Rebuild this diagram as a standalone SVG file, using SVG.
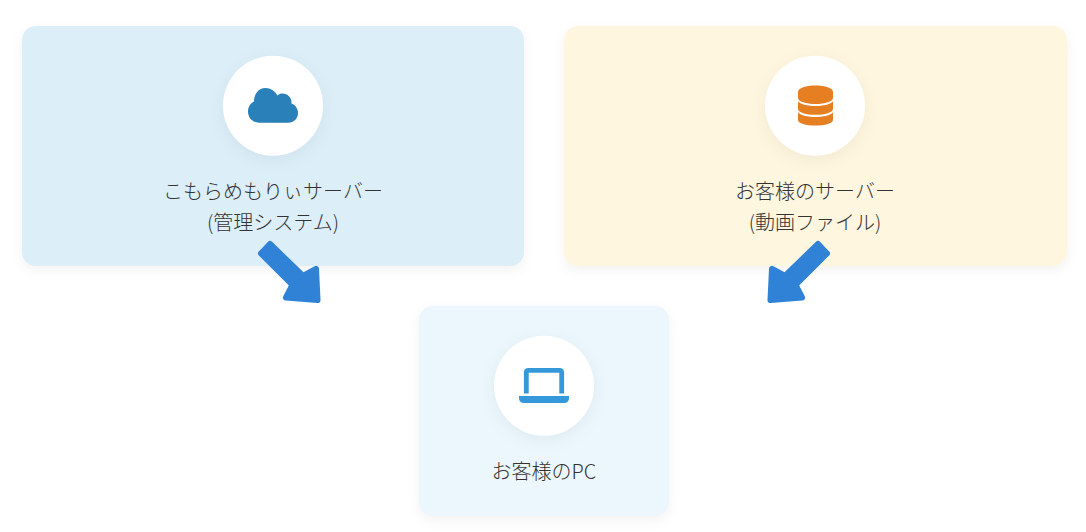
<svg xmlns="http://www.w3.org/2000/svg" width="1086" height="532" viewBox="0 0 1086 532">
<defs>
<filter id="cardShadow" x="-10%" y="-10%" width="120%" height="125%" color-interpolation-filters="sRGB"><feDropShadow dx="0" dy="4" stdDeviation="6" flood-color="#000" flood-opacity="0.05"/></filter>
<filter id="circleShadow" x="-30%" y="-30%" width="160%" height="170%" color-interpolation-filters="sRGB"><feDropShadow dx="0" dy="4" stdDeviation="8" flood-color="#000" flood-opacity="0.05"/></filter>
</defs>
<style>
text{font-family:"Noto Sans CJK JP","Noto Sans",sans-serif;font-size:20px;font-weight:300;fill:#333;text-anchor:middle}
.circle{fill:#fff;filter:url(#circleShadow)}
.card{filter:url(#cardShadow)}
.arrow{fill:#2f82d6;stroke:#2f82d6;stroke-width:6;stroke-linejoin:round}
</style>
<rect width="1086" height="532" fill="#fff"/>
<g id="server-komorame">
<rect class="card" x="22" y="26" width="502" height="240" rx="14" fill="#dceef8"/>
<circle class="circle" cx="273" cy="105.700" r="50"/>
<path d="M259 122.700 H288 C294 122.700 298 118.500 298 113 C298 108.500 295.500 105 291.500 103.500 C292 98 288 93.500 282.500 93.500 C280.500 93.500 279 94 277.500 95.500 C275 91 270.500 88 265.500 88 C258.500 88 254 94 254 101.500 C250.500 103 248 107 248 111.500 C248 118 253 122.700 259 122.700 Z" fill="#2a80b9"/>
<text x="273" y="199">こもらめもりぃサーバー</text>
<text x="273" y="230">(管理システム)</text>
</g>
<g id="server-customer">
<rect class="card" x="564" y="26" width="503" height="240" rx="14" fill="#fff6e0"/>
<circle class="circle" cx="815" cy="105.700" r="50"/>
<g fill="#e67e22">
<path d="M798 92 C798 88 806 85.500 815.500 85.500 C825 85.500 833 88 833 92 V98 C833 101.500 825 104 815.500 104 C806 104 798 101.500 798 98 Z"/>
<path d="M798 101.500 C801 104.500 808 106 815.500 106 C823 106 830 104.500 833 101.500 V109 C833 112.500 825 114.800 815.500 114.800 C806 114.800 798 112.500 798 109 Z"/>
<path d="M798 112.500 C801 115.500 808 117 815.500 117 C823 117 830 115.500 833 112.500 V120 C833 123.500 825 125.500 815.500 125.500 C806 125.500 798 123.500 798 120 Z"/>
</g>
<text x="815" y="199">お客様のサーバー</text>
<text x="815" y="230">(動画ファイル)</text>
</g>
<g id="customer-pc">
<rect class="card" x="419" y="306" width="250" height="210" rx="14" fill="#ebf7fc"/>
<circle class="circle" cx="544" cy="385.700" r="50"/>
<path d="M526.300 393.500 V372.500 Q526.300 370.300 528.500 370.300 H559.500 Q561.700 370.300 561.700 372.500 V393.500" fill="none" stroke="#3498db" stroke-width="4.800"/>
<path d="M519 396 H569 V398 Q569 403 564 403 H524 Q519 403 519 398 Z" fill="#3498db"/>
<text x="544" y="479">お客様のPC</text>
</g>
<g id="connectors">
<path class="arrow" d="M261 253.500 L270 244 L303 276 L316 269 L317.500 300 L286 297.500 L292.500 285 Z"/>
<path class="arrow" d="M827 253.500 L818 244 L785 276 L772 269 L770.500 300 L802 297.500 L795.500 285 Z"/>
</g>
</svg>
